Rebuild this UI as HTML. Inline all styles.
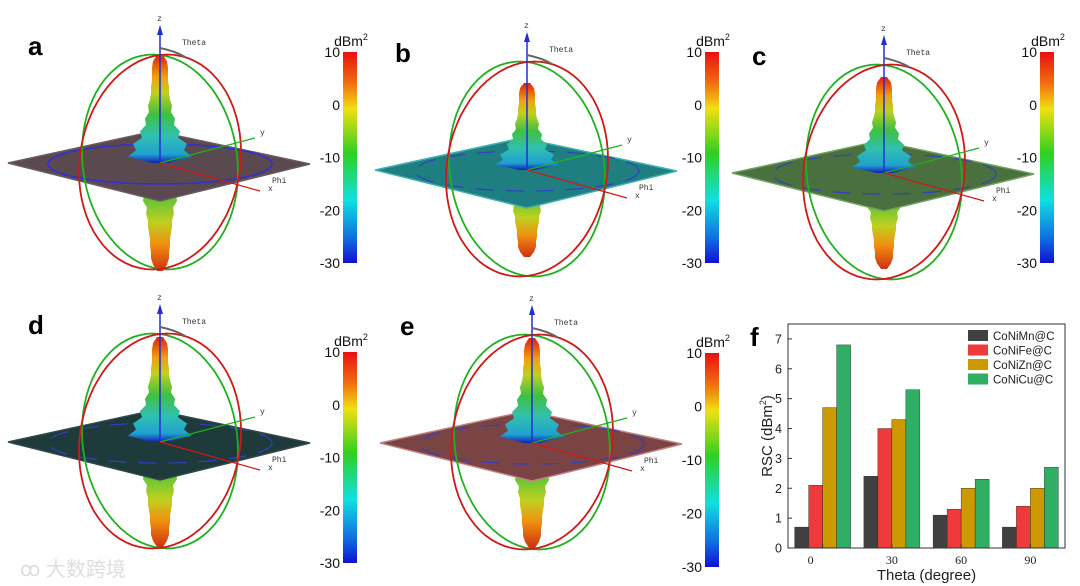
<!DOCTYPE html>
<html><head><meta charset="utf-8"><style>
html,body{margin:0;padding:0;background:#fff;}
svg{display:block;font-family:"Liberation Sans",sans-serif;}
.mono{font-family:"Liberation Mono",monospace;font-size:8px;fill:#333;}
</style></head><body>
<svg id="fig" width="1080" height="586" viewBox="0 0 1080 586">
<defs>
<linearGradient id="cbar" x1="0" y1="0" x2="0" y2="1">
<stop offset="0" stop-color="#e81010"/><stop offset="0.15" stop-color="#f07010"/><stop offset="0.27" stop-color="#f0e010"/>
<stop offset="0.48" stop-color="#30d020"/><stop offset="0.7" stop-color="#10e0e0"/><stop offset="0.88" stop-color="#1070e0"/><stop offset="1" stop-color="#1010d0"/>
</linearGradient>
<linearGradient id="lobeUp" x1="0" y1="0" x2="0" y2="1">
<stop offset="0" stop-color="#e02010"/><stop offset="0.2" stop-color="#f0a010"/><stop offset="0.35" stop-color="#c0d020"/>
<stop offset="0.55" stop-color="#40c040"/><stop offset="0.75" stop-color="#30c0b0"/><stop offset="0.92" stop-color="#20a0d0"/><stop offset="1" stop-color="#1020b0"/>
</linearGradient>
<linearGradient id="lobeDn" x1="0" y1="1" x2="0" y2="0">
<stop offset="0" stop-color="#d03010"/><stop offset="0.25" stop-color="#f09010"/><stop offset="0.45" stop-color="#c0d020"/>
<stop offset="0.75" stop-color="#40c040"/><stop offset="1" stop-color="#30b060"/>
</linearGradient>
</defs>
<g id="panels"></g>
<g id="chartf"></g>
<text x="20" y="576" font-size="20" fill="#ddd" font-family="'Liberation Sans','Noto Sans CJK SC',sans-serif">ꝏ 大数跨境</text>
</svg>
<script>
const NS='http://www.w3.org/2000/svg';
function mk(tag,attrs,parent){const e=document.createElementNS(NS,tag);for(const k in attrs)e.setAttribute(k,attrs[k]);if(parent)parent.appendChild(e);return e;}

const panelLabels=['a','b','c','d','e'];
const panelCx=[160,527,884,160,532];
const panelCy=[163,170,173,442,443];
const lobeUp=[108,87,96,105,105];
const plateColor=['#5a4a50','#1f7f80','#4a7040','#1f3a3a','#7a4444'];
const plateEdge=['#6a5a60','#40b0b0','#70a060','#304848','#c08080'];
const cbarX=[343,705,1040,343,705];
const cbarTop=[52,52,52,352,353];
const cbarBot=[263,263,263,563,567];
const cbarTicks=['10','0','-10','-20','-30'];
const pg=document.getElementById('panels');
function lobePath(cx,cy,h,dir){
  const w=dir>0?[3,7,8,8,8,9,9,10,12,11,15,14,20,18,27,24,32,8]:[3,7,9,9,10,10,11,12,12,14,13,17,16,21,20,26,30,8];
  let pts=[];const n=w.length;
  for(let i=0;i<n;i++){const y=cy-dir*h*(1-i/(n-1));pts.push([cx+w[i],y]);}
  let d='M'+cx+','+(cy-dir*h);
  pts.forEach(p=>d+=' L'+p[0].toFixed(1)+','+p[1].toFixed(1));
  d+=' L'+cx+','+cy;
  for(let i=n-1;i>=0;i--){d+=' L'+(2*cx-pts[i][0]).toFixed(1)+','+pts[i][1].toFixed(1);}
  return d+'Z';
}
function ringPath(cx,cy,rx,ry,k){
  let d='';
  for(let j=0;j<=72;j++){const th=j/72*2*Math.PI;
    const x=cx+rx*Math.sin(th),y=cy-ry*Math.cos(th)+k*Math.sin(th);
    d+=(j?' L':'M')+x.toFixed(1)+','+y.toFixed(1);}
  return d+'Z';
}
for(let i=0;i<5;i++){
  const g=mk('g',{},pg);
  
  
  const cx=panelCx[i],cy=panelCy[i],h=lobeUp[i];
  const lab=mk('text',{x:cx-132,y:cy-108,'font-size':26,'font-weight':'bold',fill:'#000'},g);lab.textContent=panelLabels[i];
  
  
  mk('path',{d:lobePath(cx,cy,h,-1),fill:'url(#lobeDn)'},g);
  const pl=mk('polygon',{points:`${cx-152},${cy} ${cx-5},${cy-32} ${cx+150},${cy+1} ${cx},${cy+38}`,fill:plateColor[i],stroke:plateEdge[i],'stroke-width':1.5},g);
  
  
  if(i===0) mk('ellipse',{cx:cx,cy:cy+1,rx:112,ry:20,fill:'none',stroke:'#3030d0','stroke-width':1.5},g);
  else mk('ellipse',{cx:cx,cy:cy+1,rx:112,ry:20,fill:'none',stroke:'#3040c0','stroke-width':1.2,'stroke-dasharray':'18 12'},g);
  mk('path',{d:lobePath(cx,cy,h,1),fill:'url(#lobeUp)'},g);
  mk('path',{d:ringPath(cx,cy-1,78,107,10),fill:'none',stroke:'#20b020','stroke-width':1.8},g);
  mk('path',{d:ringPath(cx,cy-1,81,107,-10),fill:'none',stroke:'#d01818','stroke-width':1.8},g);
  mk('line',{x1:cx,y1:cy,x2:cx,y2:cy-135,stroke:'#2030d0','stroke-width':1.5},g);
  mk('polygon',{points:`${cx-3},${cy-128} ${cx},${cy-138} ${cx+3},${cy-128}`,fill:'#2030d0'},g);
  mk('line',{x1:cx,y1:cy,x2:cx+95,y2:cy-25,stroke:'#20b020','stroke-width':1.2},g);
  mk('line',{x1:cx,y1:cy,x2:cx+100,y2:cy+28,stroke:'#d01818','stroke-width':1.2},g);
  mk('path',{d:`M${cx},${cy-115} Q${cx+15},${cy-112} ${cx+25},${cy-106}`,stroke:'#666','stroke-width':2,fill:'none'},g);
  let t=mk('text',{x:cx+22,y:cy-118,class:'mono'},g);t.textContent='Theta';
  t=mk('text',{x:cx-3,y:cy-142,class:'mono'},g);t.textContent='z';
  t=mk('text',{x:cx+100,y:cy-28,class:'mono'},g);t.textContent='y';
  t=mk('text',{x:cx+108,y:cy+28,class:'mono'},g);t.textContent='x';
  t=mk('text',{x:cx+112,y:cy+20,class:'mono'},g);t.textContent='Phi';
  const cb=mk('g',{},g);
  
  
  const x0=cbarX[i],y0=cbarTop[i],y1=cbarBot[i];
  mk('rect',{x:x0,y:y0,width:14,height:y1-y0,fill:'url(#cbar)'},cb);
  t=mk('text',{x:x0+8,y:y0-6,'font-size':14,'text-anchor':'middle',fill:'#111'},cb);t.innerHTML='dBm<tspan font-size="9" dy="-6">2</tspan>';
  cbarTicks.forEach((s,k)=>{const yy=y0+(y1-y0)*k/(cbarTicks.length-1);
    const tt=mk('text',{x:x0-3,y:yy+5,'font-size':14,'text-anchor':'end',fill:'#111'},cb);tt.textContent=s;});
}

// ---- chart f ----
const categories=['0','30','60','90'];
const seriesNames=['CoNiMn@C','CoNiFe@C','CoNiZn@C','CoNiCu@C'];
const seriesColors=['#404040','#ee3a3a','#cc9a00','#2fae64'];
const sMn=[0.7,2.4,1.1,0.7];
const sFe=[2.1,4.0,1.3,1.4];
const sZn=[4.7,4.3,2.0,2.0];
const sCu=[6.8,5.3,2.3,2.7];
const yTicks=[0,1,2,3,4,5,6,7];
const series=[sMn,sFe,sZn,sCu];
const cf=document.getElementById('chartf');
const L=788,R=1065,T=324,B=548;
const ymax=7.5;
function ys(v){return B-(v/ymax)*(B-T);}
const groupW=(R-L)/categories.length;
function xc(i){return L+groupW*(i+0.5);}
const bw=14;
series.forEach((s,si)=>{s.forEach((v,ci)=>{
  const r=mk('rect',{x:xc(ci)-2*bw+si*bw,y:ys(v),width:bw,height:B-ys(v),fill:seriesColors[si],stroke:'#222','stroke-width':0.4},cf);
  
  
});});
mk('rect',{x:L,y:T,width:R-L,height:B-T,fill:'none',stroke:'#333','stroke-width':1},cf);
yTicks.forEach(v=>{const y=ys(v);mk('line',{x1:L,y1:y,x2:L+4,y2:y,stroke:'#333'},cf);
  const t=mk('text',{x:L-6,y:y+4.5,'font-size':12.5,'text-anchor':'end',fill:'#222'},cf);t.textContent=v;});
categories.forEach((c,i)=>{const t=mk('text',{x:xc(i)-(i===0?12:0),y:B+16,'font-size':12,'text-anchor':'middle',fill:'#222','font-family':'Liberation Serif,serif'},cf);t.textContent=c;
  mk('line',{x1:xc(i),y1:B,x2:xc(i),y2:B-4,stroke:'#333'},cf);});
let t=mk('text',{x:(L+R)/2,y:B+32,'font-size':15,'text-anchor':'middle',fill:'#222'},cf);t.textContent='Theta (degree)';

t=mk('text',{x:0,y:0,'font-size':15,'text-anchor':'middle',fill:'#222',transform:`translate(772 ${(T+B)/2}) rotate(-90)`},cf);t.innerHTML='RSC (dBm<tspan font-size="9" dy="-6">2</tspan><tspan dy="6">)</tspan>';

t=mk('text',{x:750,y:346,'font-size':26,'font-weight':'bold',fill:'#000'},cf);t.textContent='f';
seriesNames.forEach((n,i)=>{const lg=mk('g',{},cf);
  
  
  const y=330+i*14.5;
  mk('rect',{x:968,y:y,width:20,height:11,fill:seriesColors[i]},lg);
  const tt=mk('text',{x:993,y:y+10,'font-size':11.5,fill:'#222'},lg);tt.textContent=n;});
</script>
</body></html>
